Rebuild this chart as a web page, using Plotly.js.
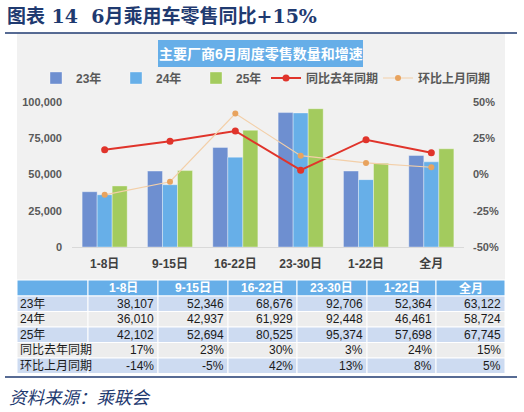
<!DOCTYPE html>
<html><head><meta charset="utf-8">
<script src="https://cdn.plot.ly/plotly-3.0.1.min.js"></script>
<style>html,body{margin:0;padding:0;background:#fff}#c{width:524px;height:412px}</style>
</head><body><div id="c"></div>
<script>
const categories = ['1-8日','9-15日','16-22日','23-30日','1-22日','全月'];
const y23 = [38107,52346,68676,92706,52364,63122];
const y24 = [36010,42937,61929,92448,46461,58724];
const y25 = [42102,52694,80525,95374,57698,67745];
const yoy = [17,23,30,3,24,15];
const mom = [-14,-5,42,13,8,5];
const rowLabels = ['23年','24年','25年','同比去年同期','环比上月同期'];
const leftTicks = [0,25000,50000,75000,100000];
const rightTicks = [-50,-25,0,25,50];

const W=524,H=412;
const px=x=>x/W, py=y=>(H-y)/H;
const F="'Liberation Sans','Noto Sans CJK SC',sans-serif";
const FN="'Liberation Sans Narrow','Liberation Sans','Noto Sans CJK SC',sans-serif";

const barLine={color:'rgba(255,255,255,0.45)',width:0.8};
const traces=[
 {type:'bar',name:'23年',x:categories,y:y23,marker:{color:'#6E8FD0',line:barLine},legend:'legend'},
 {type:'bar',name:'24年',x:categories,y:y24,marker:{color:'#67AFE8',line:barLine},legend:'legend'},
 {type:'bar',name:'25年',x:categories,y:y25,marker:{color:'#A3CB5E',line:barLine},legend:'legend'},
 {type:'scatter',mode:'lines+markers',name:'同比去年同期',x:categories,y:yoy,yaxis:'y2',
  line:{color:'#E0342B',width:2},marker:{color:'#E0342B',size:7},legend:'legend2'},
 {type:'scatter',mode:'lines+markers',name:'环比上月同期',x:categories,y:mom,yaxis:'y2',
  line:{color:'#F3CFA8',width:1.2},marker:{color:'#E8A35E',size:6},legend:'legend2'}
];

// ---- table (drawn with shapes + annotations) ----
const fmtN=v=>v.toLocaleString('en-US');
const tableRows=[y23.map(fmtN),y24.map(fmtN),y25.map(fmtN),yoy.map(v=>v+'%'),mom.map(v=>v+'%')];
const colX=[17,88,158,228,297,367,436,505];
const rowY=[280,296,311.5,327,342.5,358,373.5];
const rowFill=['#CDDBF1','#EDEDED','#CDDBF1','#EDEDED','#CDDBF1'];
const tShapes=[], tAnn=[];
function cell(c,r,fill){
  tShapes.push({type:'rect',xref:'paper',yref:'paper',x0:px(colX[c]),x1:px(colX[c+1]),
    y0:py(rowY[r+1]),y1:py(rowY[r]),fillcolor:fill,line:{color:'#ffffff',width:1},layer:'above'});
}
const headerLabels=[''].concat(categories);
headerLabels.forEach((t,c)=>{
  cell(c,0,'#66AEE8');
  if(t) tAnn.push({text:t,xref:'paper',yref:'paper',x:px((colX[c]+colX[c+1])/2),y:py((rowY[0]+rowY[1])/2),
    xanchor:'center',yanchor:'middle',showarrow:false,font:{family:FN,size:12,color:'#ffffff',weight:'bold'}});
});
rowLabels.forEach((lab,r)=>{
  const yc=py((rowY[r+1]+rowY[r+2])/2);
  cell(0,r+1,rowFill[r]);
  tAnn.push({text:lab,xref:'paper',yref:'paper',x:px(colX[0]+1),y:yc,xanchor:'left',yanchor:'middle',
    showarrow:false,font:{family:FN,size:12,color:'#1a1a1a'}});
  tableRows[r].forEach((v,c)=>{
    cell(c+1,r+1,rowFill[r]);
    tAnn.push({text:v,xref:'paper',yref:'paper',x:px(colX[c+2]-2),y:yc,xanchor:'right',yanchor:'middle',
      showarrow:false,font:{family:FN,size:12,color:'#1a1a1a'}});
  });
});

const tickFont={family:F,size:11,color:'#595959',weight:'bold'};
const layout={
  width:W,height:H,margin:{l:0,r:0,t:0,b:0},
  paper_bgcolor:'#ffffff',plot_bgcolor:'rgba(0,0,0,0)',
  barmode:'group',bargap:0.31,bargroupgap:0,
  font:{family:F},
  xaxis:{domain:[px(72),px(464)],showline:true,linecolor:'#D9D9D9',linewidth:1,
    ticks:'',showgrid:false,tickfont:{family:F,size:12,color:'#404040',weight:'bold'},ticklabelstandoff:6},
  yaxis:{domain:[py(247),py(102)],range:[0,100000],tickmode:'array',tickvals:leftTicks,tickformat:',',
    showgrid:false,zeroline:false,ticks:'',tickfont:tickFont,ticklabelstandoff:9},
  yaxis2:{overlaying:'y',side:'right',range:[-50,50],tickmode:'array',tickvals:rightTicks,
    ticktext:rightTicks.map(v=>v+'%'),
    showgrid:false,zeroline:false,ticks:'',tickfont:tickFont,ticklabelstandoff:8},
  legend:{orientation:'h',x:px(36),y:py(78),xanchor:'left',yanchor:'middle',bgcolor:'rgba(0,0,0,0)',
    entrywidth:35,font:{family:F,size:12,color:'#595959',weight:'bold'}},
  legend2:{orientation:'h',x:px(266),y:py(78),xanchor:'left',yanchor:'middle',bgcolor:'rgba(0,0,0,0)',
    entrywidth:67,font:{family:F,size:12,color:'#595959',weight:'bold'}},
  shapes:[
    {type:'rect',xref:'paper',yref:'paper',x0:px(17),x1:px(505),y0:py(280),y1:py(33),
     fillcolor:'#F1F1F1',line:{width:0},layer:'below'},
    {type:'rect',xref:'paper',yref:'paper',x0:px(158),x1:px(363),y0:py(67),y1:py(40),
     fillcolor:'#66AEE8',line:{width:0},layer:'below'},
    {type:'line',xref:'paper',yref:'paper',x0:px(5),x1:px(517),y0:py(33),y1:py(33),
     line:{color:'#1F3A70',width:1.5}},
    {type:'line',xref:'paper',yref:'paper',x0:px(5),x1:px(517),y0:py(377),y1:py(377),
     line:{color:'#1F3A70',width:1.5}}
  ].concat(tShapes),
  annotations:[
    {text:'图表 14  6月乘用车零售同比+15%',xref:'paper',yref:'paper',x:px(5),y:py(16),
     xanchor:'left',yanchor:'middle',showarrow:false,
     font:{family:"'DejaVu Serif','Noto Sans CJK SC',serif",size:19,color:'#1F3A70',weight:'bold'}},
    {text:'主要厂商6月周度零售数量和增速',xref:'paper',yref:'paper',x:px(260.5),y:py(53.5),
     xanchor:'center',yanchor:'middle',showarrow:false,
     font:{family:F,size:14,color:'#ffffff',weight:'bold'}},
    {text:'资料来源：乘联会',xref:'paper',yref:'paper',x:px(7),y:py(398),
     xanchor:'left',yanchor:'middle',showarrow:false,
     font:{family:F,size:17.5,color:'#1F3A70',style:'italic'}}
  ].concat(tAnn)
};
Plotly.newPlot('c',traces,layout,{displayModeBar:false,staticPlot:true});
</script></body></html>
